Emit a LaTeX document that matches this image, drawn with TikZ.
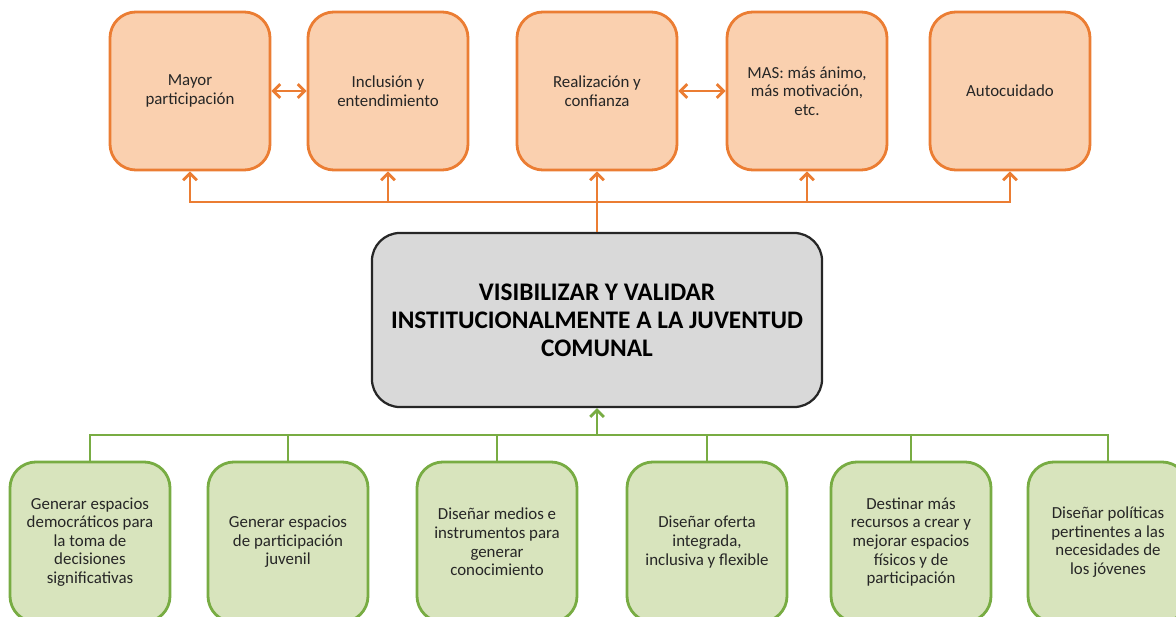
\documentclass[tikz,border=0pt]{standalone}
\usepackage{fontspec}
\setmainfont{Carlito}
\usetikzlibrary{arrows.meta}
\definecolor{orangeline}{HTML}{EB7D33}
\definecolor{orangefill}{HTML}{FAD0AF}
\definecolor{greenline}{HTML}{78AC43}
\definecolor{greenfill}{HTML}{D8E4BD}
\definecolor{grayfill}{HTML}{D9D9D9}
\definecolor{ink}{HTML}{262626}
\begin{document}
\begin{tikzpicture}[x=0.025cm,y=-0.025cm,font=\fontsize{12}{13.2}\selectfont,
  >={Straight Barb[length=1.7mm,width=3.4mm]},
  effect/.style={rounded corners=0.65cm,minimum width=4cm,minimum height=3.95cm,align=center,line width=2pt,draw=orangeline,fill=orangefill,text=ink},
  action/.style={rounded corners=0.65cm,minimum width=4cm,minimum height=4cm,align=center,line width=2pt,draw=greenline,fill=greenfill,text=ink},
  goal/.style={rounded corners=0.7cm,minimum width=11.25cm,minimum height=4.35cm,align=center,line width=1.6pt,draw=ink,fill=grayfill,text=black,font=\fontsize{18}{20}\selectfont\bfseries},
  oline/.style={line width=2pt,orangeline},
  gline/.style={line width=2pt,greenline}]
  \useasboundingbox (0,0) rectangle (1176,617);
  \node[goal] (goal) at (597,320) {VISIBILIZAR Y VALIDAR\\INSTITUCIONALMENTE A LA JUVENTUD\\COMUNAL};
  \node[effect] (mayor) at (190,91) {Mayor\\participación};
  \node[effect] (inclusion) at (388,91) {Inclusión y\\entendimiento};
  \node[effect] (realizacion) at (597,91) {Realización y\\confianza};
  \node[effect] (mas) at (807,91) {MAS: más ánimo,\\más motivación,\\etc.};
  \node[effect] (autocuidado) at (1010,91) {Autocuidado};
  \coordinate (ohub) at (597,202);
  \draw[oline,<->] (mayor) -- (inclusion);
  \draw[oline,<->] (realizacion) -- (mas);
  \draw[oline,->] (goal.north) -- (realizacion.south);
  \draw[oline,->] (ohub) -| (mayor.south);
  \draw[oline,->] (ohub) -| (inclusion.south);
  \draw[oline,->] (ohub) -| (mas.south);
  \draw[oline,->] (ohub) -| (autocuidado.south);
  \node[action] (democraticos) at (90,542) {Generar espacios\\democráticos para\\la toma de\\decisiones\\significativas};
  \node[action] (juvenil) at (288,542) {Generar espacios\\de participación\\juvenil};
  \node[action] (medios) at (497,542) {Diseñar medios e\\instrumentos para\\generar\\conocimiento};
  \node[action] (oferta) at (707,542) {Diseñar oferta\\integrada,\\inclusiva y flexible};
  \node[action] (recursos) at (911,542) {Destinar más\\recursos a crear y\\mejorar espacios\\físicos y de\\participación};
  \node[action] (politicas) at (1108,542) {Diseñar políticas\\pertinentes a las\\necesidades de\\los jóvenes};
  \coordinate (ghub) at (597,435);
  \draw[gline,->] (ghub) -- (goal.south);
  \foreach \n in {democraticos,juvenil,medios,oferta,recursos,politicas}
    \draw[gline] (ghub) -| (\n.north);
\end{tikzpicture}
\end{document}
